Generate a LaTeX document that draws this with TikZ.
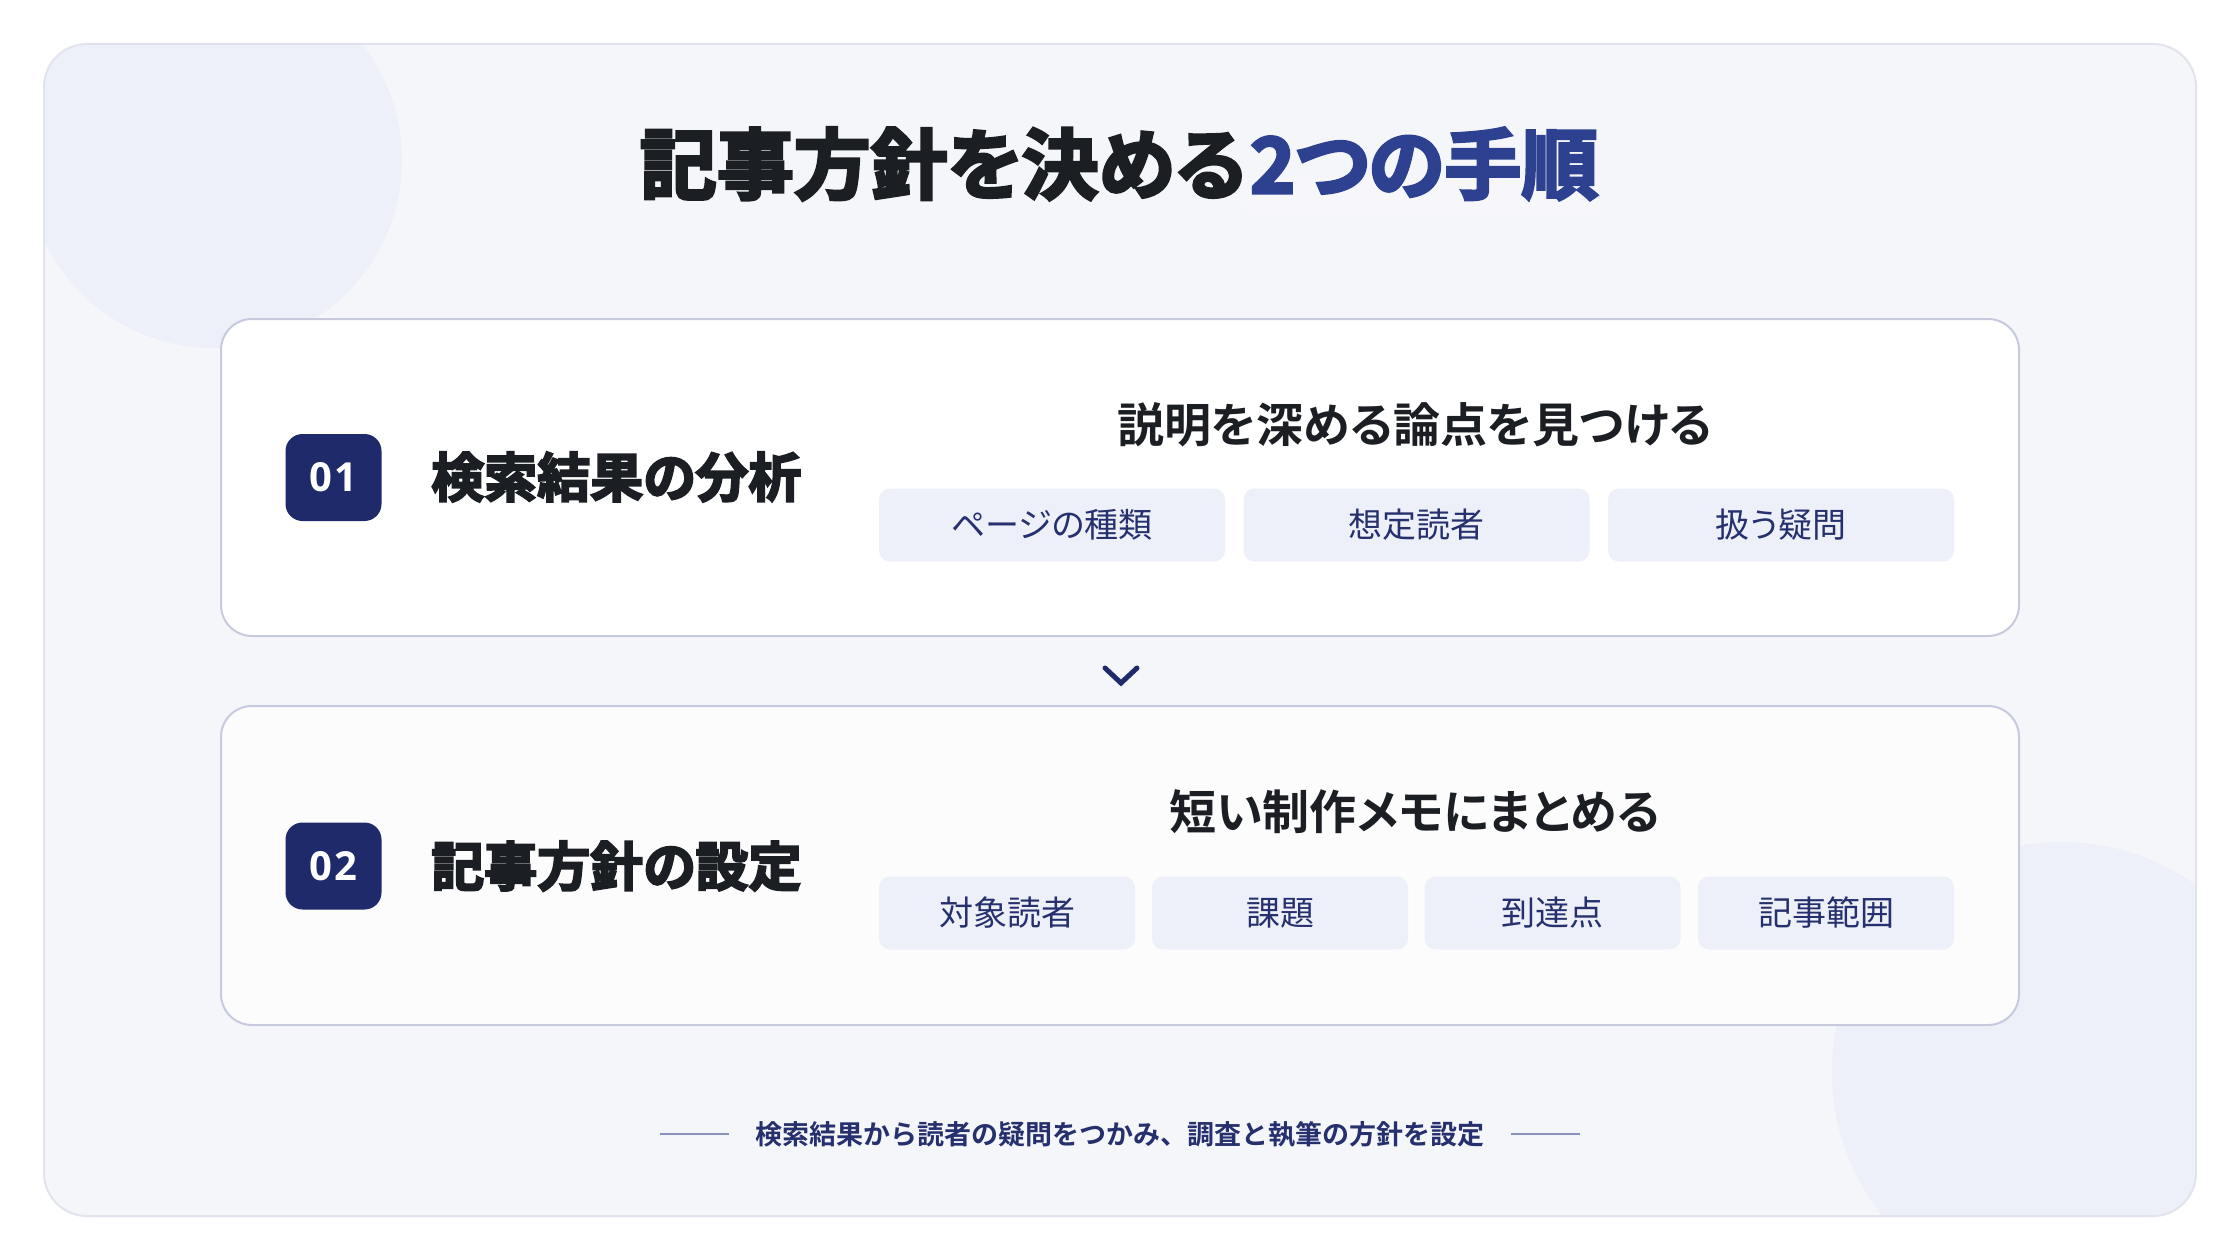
\documentclass[tikz,border=0pt]{standalone}
\usepackage{fontspec}
\newfontfamily\cjk[RawFeature=+palt]{Noto Sans CJK JP}
\newfontfamily\cjkb[RawFeature=+palt]{Noto Sans CJK JP Bold}
\newfontfamily\cjkbb[RawFeature=+palt,FakeBold=3.8]{Noto Sans CJK JP Bold}
\newfontfamily\cjkfoot{Noto Sans CJK JP Bold}
\newfontfamily\numf[LetterSpace=6]{Open Sans}
\definecolor{bg}{HTML}{F5F6FA}
\definecolor{panelline}{HTML}{E1E4ED}
\definecolor{blob}{HTML}{EDF0F8}
\definecolor{cardline}{HTML}{C6CADC}
\definecolor{navy}{HTML}{1F2A6B}
\definecolor{tblue}{HTML}{2E4190}
\definecolor{ink}{HTML}{1B1E22}
\definecolor{chipfill}{HTML}{EDF0F8}
\definecolor{chiptext}{HTML}{27306E}
\definecolor{footline}{HTML}{8C93B8}
\tikzset{
  card/.style={draw=cardline, line width=2pt, rounded corners=31pt},
  badge/.style={fill=navy, rounded corners=17pt, minimum width=96pt, minimum height=87pt, inner sep=0pt, text=white, font={\numf\bfseries\fontsize{40}{40}\selectfont}},
  headtxt/.style={inner sep=0pt, text=ink, font={\cjkbb\fontsize{53}{53}\selectfont}},
  subtxt/.style={inner sep=0pt, text=ink, font={\cjkb\fontsize{47}{47}\selectfont}},
  chip/.style={fill=chipfill, rounded corners=11pt, minimum height=73pt, inner sep=0pt, text=chiptext, font={\cjk\fontsize{34}{34}\selectfont}},
}
\begin{document}
\begin{tikzpicture}[x=1pt,y=-1pt]
\useasboundingbox (0,0) rectangle (2240,1260);
\fill[white] (0,0) rectangle (2240,1260);
% outer panel
\fill[bg] (44,44) [rounded corners=43pt] rectangle (2196,1216);
\begin{scope}
  \clip (44,44) [rounded corners=43pt] rectangle (2196,1216);
  \fill[blob] (214,160) circle (188);
  \fill[blob] (2062,1072) circle (230);
\end{scope}
\draw[panelline, line width=2pt] (44,44) [rounded corners=43pt] rectangle (2196,1216);
% title
\fill[color=white, opacity=0.22] (1242,177) rectangle (1600,215);
\node[inner sep=0pt, font={\cjkbb\fontsize{77}{77}\selectfont}] (title) at (1119,164)
  {\textcolor{ink}{記事方針を決める}\hspace{4pt}\textcolor{tblue}{2つの手順}};
% cards
\draw[card, fill=white] (221,319) rectangle (2019,636);
\draw[card, fill={rgb,255:red,252;green,252;blue,253}] (221,706) rectangle (2019,1025);
\node (card1) at (1120,477.5) {};
\node (card2) at (1120,865.5) {};
% chevron
\coordinate (chev) at (1121,683);
\draw[navy, line width=5pt, line cap=round, line join=miter] ([shift={(-16,-15)}]chev) -- (chev) -- ([shift={(16,-15)}]chev);
% step 1
\node[badge] (b1) at (333.5,477.5) {01};
\node[headtxt, anchor=west] (h1) at (431,477) {検索結果の分析};
\node[subtxt] (s1) at (1415,425) {説明を深める論点を見つける};
\node[chip, minimum width=346pt] (c11) at (1052,525) {ページの種類};
\node[chip, minimum width=346pt] (c12) at (1416.5,525) {想定読者};
\node[chip, minimum width=346pt] (c13) at (1781,525) {扱う疑問};
% step 2
\node[badge] (b2) at (333.5,866) {02};
\node[headtxt, anchor=west] (h2) at (431,866) {記事方針の設定};
\node[subtxt] (s2) at (1415,812) {短い制作メモにまとめる};
\node[chip, minimum width=256pt] (c21) at (1007,913) {対象読者};
\node[chip, minimum width=256pt] (c22) at (1280,913) {課題};
\node[chip, minimum width=256pt] (c23) at (1552.5,913) {到達点};
\node[chip, minimum width=256pt] (c24) at (1826,913) {記事範囲};
% footer
\node[inner sep=0pt, text=chiptext, font={\cjkfoot\fontsize{27}{27}\selectfont}] (foot) at (1120,1134) {検索結果から読者の疑問をつかみ、調査と執筆の方針を設定};
\draw[footline, line width=2pt] ([xshift=-26pt]foot.west) -- ([xshift=-95pt]foot.west);
\draw[footline, line width=2pt] ([xshift=26pt]foot.east) -- ([xshift=95pt]foot.east);
\end{tikzpicture}
\end{document}
